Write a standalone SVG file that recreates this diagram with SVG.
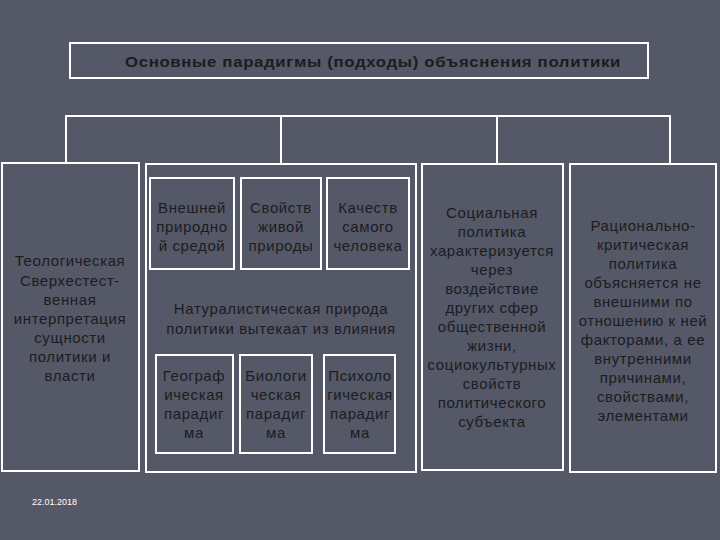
<svg xmlns="http://www.w3.org/2000/svg" width="720" height="540" viewBox="0 0 720 540">
<style>
.b{fill:none;stroke:#fff;stroke-width:2}
.t{font-family:"Liberation Sans",Arial,sans-serif;font-size:15px;letter-spacing:0.6px;fill:#1c1c22;text-anchor:middle}
</style>
<rect width="720" height="540" fill="#555866"/>
<g id="title"><rect class="b" x="70" y="43" width="578" height="35"/><text class="t" x="373" y="67" font-weight="bold" font-size="16" letter-spacing="0" textLength="496" lengthAdjust="spacingAndGlyphs">Основные парадигмы (подходы) объяснения политики</text></g>
<g id="connectors" class="b"><path d="M66 164V116H670V164M281 116V164M497 116V164"/></g>
<g id="theo"><rect class="b" x="2" y="163" width="137" height="308"/>
<text class="t"><tspan x="70" y="266">Теологическая</tspan><tspan x="70" y="286">Сверхестест-</tspan><tspan x="70" y="305">венная</tspan><tspan x="70" y="324">интерпретация</tspan><tspan x="70" y="343">сущности</tspan><tspan x="70" y="362">политики и</tspan><tspan x="70" y="381">власти</tspan></text></g>
<g id="nat"><rect class="b" x="146" y="164" width="270" height="308"/>
<text class="t"><tspan x="281" y="314">Натуралистическая природа</tspan><tspan x="281" y="334">политики вытекаат из влияния</tspan></text></g>
<g id="n1"><rect class="b" x="150" y="178" width="84" height="91"/><text class="t"><tspan x="192" y="213">Внешней</tspan><tspan x="192" y="232">природно</tspan><tspan x="192" y="251">й средой</tspan></text></g>
<g id="n2"><rect class="b" x="241" y="178" width="80" height="91"/><text class="t"><tspan x="281" y="213">Свойств</tspan><tspan x="281" y="232">живой</tspan><tspan x="281" y="251">природы</tspan></text></g>
<g id="n3"><rect class="b" x="327" y="178" width="82" height="91"/><text class="t"><tspan x="368" y="213">Качеств</tspan><tspan x="368" y="232">самого</tspan><tspan x="368" y="251">человека</tspan></text></g>
<g id="p1"><rect class="b" x="156" y="355" width="77" height="98"/><text class="t"><tspan x="194" y="381">Географ</tspan><tspan x="194" y="400">ическая</tspan><tspan x="194" y="419">парадиг</tspan><tspan x="194" y="438">ма</tspan></text></g>
<g id="p2"><rect class="b" x="240" y="355" width="72" height="98"/><text class="t"><tspan x="276" y="381">Биологи</tspan><tspan x="276" y="400">ческая</tspan><tspan x="276" y="419">парадиг</tspan><tspan x="276" y="438">ма</tspan></text></g>
<g id="p3"><rect class="b" x="324" y="355" width="71" height="98"/><text class="t"><tspan x="360" y="381">Психоло</tspan><tspan x="360" y="400">гическая</tspan><tspan x="360" y="419">парадиг</tspan><tspan x="360" y="438">ма</tspan></text></g>
<g id="soc"><rect class="b" x="422" y="164" width="141" height="306"/>
<text class="t" letter-spacing="0.3"><tspan x="492" y="218">Социальная</tspan><tspan x="492" y="237">политика</tspan><tspan x="492" y="256">характеризуется</tspan><tspan x="492" y="275">через</tspan><tspan x="492" y="294">воздействие</tspan><tspan x="492" y="313">других сфер</tspan><tspan x="492" y="332">общественной</tspan><tspan x="492" y="351">жизни,</tspan><tspan x="492" y="370">социокультурных</tspan><tspan x="492" y="389">свойств</tspan><tspan x="492" y="408">политического</tspan><tspan x="492" y="427">субъекта</tspan></text></g>
<g id="rat"><rect class="b" x="570" y="164" width="146" height="308"/>
<text class="t" letter-spacing="0.3"><tspan x="643" y="231">Рационально-</tspan><tspan x="643" y="250">критическая</tspan><tspan x="643" y="269">политика</tspan><tspan x="643" y="288">объясняется не</tspan><tspan x="643" y="307">внешними по</tspan><tspan x="643" y="326">отношению к ней</tspan><tspan x="643" y="345">факторами, а ее</tspan><tspan x="643" y="364">внутренними</tspan><tspan x="643" y="383">причинами,</tspan><tspan x="643" y="402">свойствами,</tspan><tspan x="643" y="421">элементами</tspan></text></g>
<text x="32" y="505" font-family="Liberation Sans,Arial,sans-serif" font-size="9" fill="#fff">22.01.2018</text>
</svg>
